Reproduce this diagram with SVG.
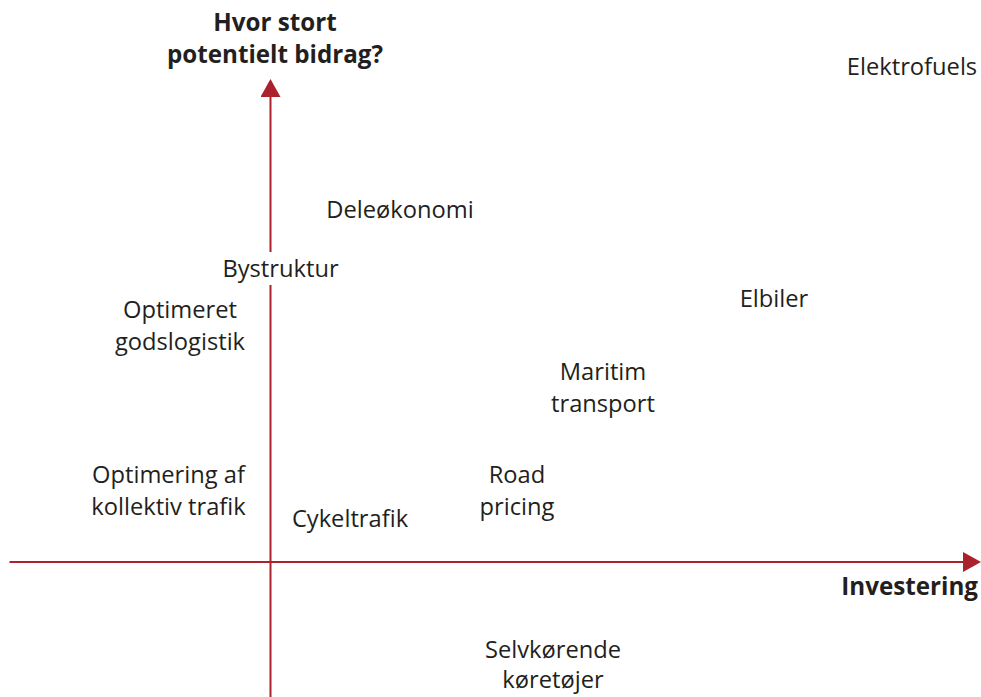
<svg xmlns="http://www.w3.org/2000/svg" width="981" height="697" viewBox="0 0 981 697">
<defs>
<style>
text{font-family:"Open Sans","Noto Sans","Liberation Sans",sans-serif;font-size:23.7px;fill:#231f20;text-anchor:middle}
.b{font-weight:bold;font-size:24.2px}
.ax{stroke:#aa222c;stroke-width:2;fill:none}
</style>
<marker id="ah" viewBox="0 0 18 20" refX="0" refY="10" markerWidth="18" markerHeight="20" markerUnits="userSpaceOnUse" orient="auto">
<path d="M0,0 L18,10 L0,20 Z" fill="#aa222c"/>
</marker>
</defs>
<rect width="981" height="697" fill="#fff"/>
<g id="connectors">
<line class="ax" x1="270.5" y1="697" x2="270.5" y2="97" marker-end="url(#ah)"/>
<line class="ax" x1="9.5" y1="562" x2="963" y2="562" marker-end="url(#ah)"/>
</g>
<g id="y-label"><text class="b" x="275" y="31">Hvor stort</text><text class="b" x="275" y="63">potentielt bidrag?</text></g>
<g id="x-label"><text class="b" x="978" y="595" style="text-anchor:end">Investering</text></g>
<g id="elektrofuels"><text x="912" y="75">Elektrofuels</text></g>
<g id="deleokonomi"><text x="400" y="218">Deleøkonomi</text></g>
<g id="bystruktur"><rect x="218" y="252" width="125" height="33" fill="#fff"/><text x="280.5" y="277">Bystruktur</text></g>
<g id="godslogistik"><text x="180" y="318">Optimeret</text><text x="180" y="350">godslogistik</text></g>
<g id="elbiler"><text x="774" y="307">Elbiler</text></g>
<g id="maritim"><text x="603" y="380">Maritim</text><text x="603" y="412">transport</text></g>
<g id="kollektiv"><text x="168.5" y="483">Optimering af</text><text x="168.5" y="515">kollektiv trafik</text></g>
<g id="roadpricing"><text x="517" y="483">Road</text><text x="517" y="515">pricing</text></g>
<g id="cykeltrafik"><text x="350" y="527">Cykeltrafik</text></g>
<g id="selvkorende"><text x="553" y="658">Selvkørende</text><text x="553" y="688">køretøjer</text></g>
</svg>
